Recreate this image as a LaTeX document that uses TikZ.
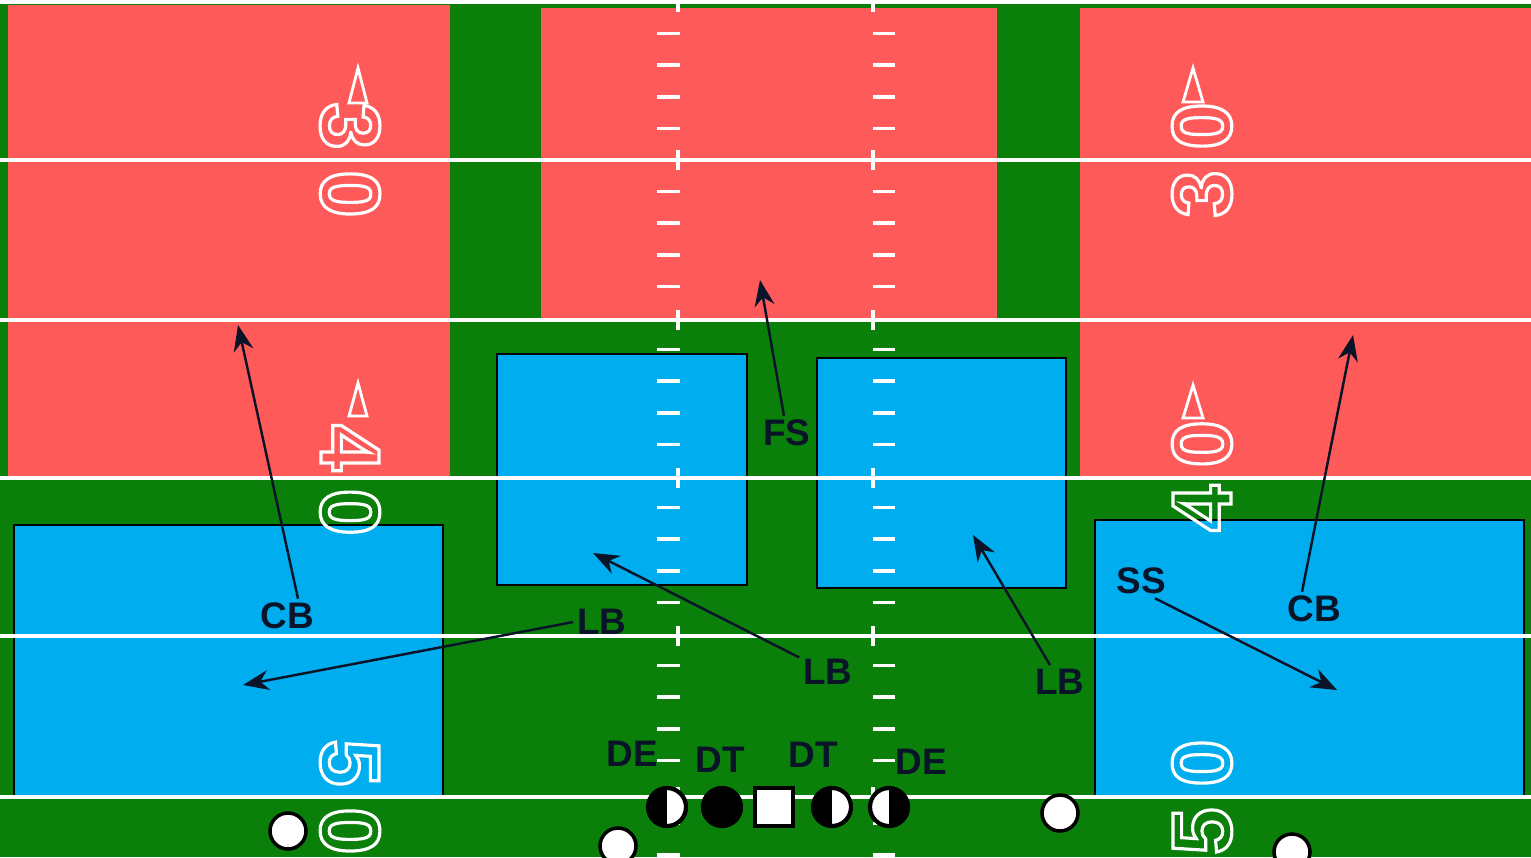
\documentclass[tikz,border=0pt]{standalone}
\usepackage{fontspec}
\setmainfont{Liberation Sans}
\usepackage{tikz}
\usetikzlibrary{arrows.meta}

\definecolor{turf}{HTML}{0A7F0A}
\definecolor{zonered}{HTML}{FF5A5A}
\definecolor{zoneblue}{HTML}{00AEEF}
\definecolor{ink}{HTML}{0A1428}

% hollow (stroked) digits for the yard numbers
\newcommand\hollow[1]{\special{pdf:literal direct 1 Tr 0.9 w}#1\special{pdf:literal direct 0 Tr}}

\begin{document}
\begin{tikzpicture}[x=0.01cm, y=-0.01cm,
          yardline/.style={white, line width=0.9pt},
          hashmark/.style={white, line width=1pt},
          deepzone/.style={fill=zonered},
          underzone/.style={fill=zoneblue, draw=black, line width=0.6pt},
          yardnum/.style={text=white, font=\fontsize{24}{24}\selectfont\bfseries, inner sep=0pt},
          pointer/.style={white, line width=0.8pt, line join=miter},
          role/.style={font=\fontsize{10.5}{12}\selectfont\bfseries, text=ink, inner sep=1pt},
          route/.style={ink, line width=0.7pt, -{Stealth[length=2.6mm, width=2mm]}},
          player/.style={circle, draw=black, line width=1pt, fill=white, minimum size=3.6mm, inner sep=0pt},
          lineman/.style={player, minimum size=3.8mm, line width=1.2pt},
          halfleft/.style={lineman, path picture={\fill[black] (path picture bounding box.north west) rectangle (path picture bounding box.south);}},
          halfright/.style={lineman, path picture={\fill[black] (path picture bounding box.north) rectangle (path picture bounding box.south east);}}
        ]
        \useasboundingbox (0,0) rectangle (1531,857);
        \clip (0,0) rectangle (1531,857);

        % Field
        \fill[turf] (0,0) rectangle (1531,857);

        % Deep zones
        \fill[deepzone] (8,5) rectangle (450,478);
        \fill[deepzone] (541,8) rectangle (997,318);
        \fill[deepzone] (1080,8) rectangle (1531,478);

        % Underneath zones
        \filldraw[underzone] (14,525) rectangle (443,797);
        \filldraw[underzone] (497,354) rectangle (747,585);
        \filldraw[underzone] (817,358) rectangle (1066,588);
        \filldraw[underzone] (1095,520) rectangle (1524,797);

        % Yard lines every 5 yards
        \foreach \y in {2,160,320,478,636,797}
          \draw[yardline] (0,\y) -- (1531,\y);

        % Hash marks
        \foreach \b in {0,...,5}
          \foreach \j in {1,...,4} {
            \draw[hashmark] (657,{2+31.6*(5*\b+\j)}) -- (680,{2+31.6*(5*\b+\j)});
            \draw[hashmark] (873,{2+31.6*(5*\b+\j)}) -- (895,{2+31.6*(5*\b+\j)});
          }
        \foreach \y in {2,160,320,478,636,797} {
          \draw[hashmark] (678,\y-10) -- (678,\y+10);
          \draw[hashmark] (873,\y-10) -- (873,\y+10);
        }

        % Yard numbers
        \node[yardnum, rotate=-90] (n30l) at (350,160) {\hollow{3\kern6pt0}};
        \node[yardnum, rotate=-90] (n40l) at (350,480) {\hollow{4\kern5pt0}};
        \node[yardnum, rotate=-90] (n50l) at (350,797) {\hollow{5\kern6pt0}};
        \node[yardnum, rotate=90] (n30r) at (1202,160) {\hollow{3\kern6pt0}};
        \node[yardnum, rotate=90] (n40r) at (1202,476) {\hollow{4\kern5pt0}};
        \node[yardnum, rotate=90] (n50r) at (1202,797) {\hollow{5\kern6pt0}};
        \draw[pointer] (358,68) -- (367,103) -- (349,103) -- cycle;
        \draw[pointer] (358,383) -- (367,416) -- (349,416) -- cycle;
        \draw[pointer] (1193,68) -- (1203,102) -- (1183,102) -- cycle;
        \draw[pointer] (1193,385) -- (1203,418) -- (1183,418) -- cycle;

        % Offense
        \node[player] (wrl) at (288,831) {};
        \node[player] (rb) at (618,846) {};
        \node[player] (te) at (1060,813) {};
        \node[player] (wrr) at (1292,852) {};
        \node[lineman, rectangle] (ctr) at (774,807) {};

        % Defensive front
        \node[halfleft] (dell) at (667,807) {};
        \node[lineman, fill=black] (dtll) at (722,807) {};
        \node[halfleft] (dtrl) at (832,807) {};
        \node[halfright] (derl) at (889,807) {};

        % Labels
        \node[role] (del) at (632,754) {DE};
        \node[role] (dtl) at (720,760) {DT};
        \node[role] (dtr) at (813,755) {DT};
        \node[role] (der) at (921,762) {DE};
        \node[role] (cbl) at (287,616) {CB};
        \node[role] (lb1) at (602,622) {LB};
        \node[role] (lb2) at (828,672) {LB};
        \node[role] (lb3) at (1060,682) {LB};
        \node[role] (fs) at (787,433) {FS};
        \node[role] (ss) at (1141,581) {SS};
        \node[role] (cbr) at (1314,609) {CB};

        % Drops into coverage
        \coordinate (cbltip) at (238,325);
        \coordinate (lb1tip) at (243,685);
        \coordinate (lb2tip) at (593,553);
        \coordinate (lb3tip) at (973,535);
        \coordinate (fstip) at (760,280);
        \coordinate (sstip) at (1337,690);
        \coordinate (cbrtip) at (1353,335);
        \draw[route] ([xshift=1.1mm]cbl.north) -- (cbltip);
        \draw[route] (lb1.west) -- (lb1tip);
        \draw[route] (lb2) -- (lb2tip);
        \draw[route] (lb3) -- (lb3tip);
        \draw[route] (fs) -- (fstip);
        \draw[route] ([xshift=1.4mm]ss.south) -- (sstip);
        \draw[route] ([xshift=-1.2mm]cbr.north) -- (cbrtip);
\end{tikzpicture}
\end{document}
